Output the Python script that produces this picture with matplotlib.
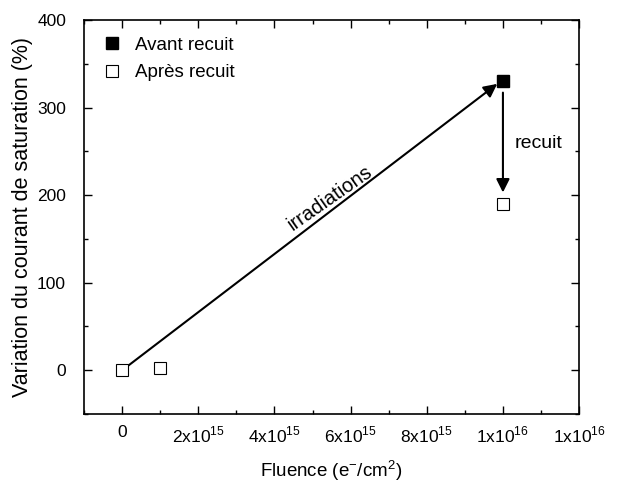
import matplotlib
matplotlib.use('Agg')
import matplotlib.pyplot as plt
from matplotlib.ticker import MultipleLocator

plt.rcParams['font.family'] = ['Liberation Sans', 'DejaVu Sans']
plt.rcParams['mathtext.fontset'] = 'custom'
plt.rcParams['mathtext.rm'] = 'Liberation Sans'

# data
avant_x = [1e16]
avant_y = [330]
apres_x = [0, 1e15, 1e16]
apres_y = [0, 3, 190]
xtick_vals = [0, 2e15, 4e15, 6e15, 8e15, 1e16, 1.2e16]
xtick_labels = ['0', r'2x10$^{15}$', r'4x10$^{15}$', r'6x10$^{15}$',
                r'8x10$^{15}$', r'1x10$^{16}$', r'1x10$^{16}$']
ytick_vals = [0, 100, 200, 300, 400]

fig = plt.figure(figsize=(6.42, 4.86), dpi=100)
ax = fig.add_axes([0.131, 0.148, 0.771, 0.811])

ax.plot(avant_x, avant_y, 's', ms=8.5, color='black', mec='black',
        label='Avant recuit', zorder=4)
ax.plot(apres_x, apres_y, 's', ms=8.5, mfc='white', mec='black', mew=0.8,
        label='Après recuit', zorder=4)

# arrows
ax.annotate('', xy=(0.985e16, 327), xytext=(0, 0),
            arrowprops=dict(arrowstyle='-|>', color='black', lw=1.5,
                            mutation_scale=20, shrinkA=0, shrinkB=0))
ax.annotate('', xy=(1e16, 203), xytext=(1e16, 317),
            arrowprops=dict(arrowstyle='-|>', color='black', lw=1.5,
                            mutation_scale=20, shrinkA=0, shrinkB=0))
ax.text(5.45e15, 197, 'irradiations', rotation=35, ha='center', va='center',
        fontsize=14.5)
ax.text(1.03e16, 259, 'recuit', ha='left', va='center', fontsize=14)

ax.set_xlim(-1e15, 1.2e16)
ax.set_ylim(-50, 400)
ax.set_xticks(xtick_vals)
ax.set_xticklabels(xtick_labels)
ax.set_yticks(ytick_vals)
ax.xaxis.set_minor_locator(MultipleLocator(1e15))
ax.yaxis.set_minor_locator(MultipleLocator(50))
ax.tick_params(which='both', direction='in', top=True, right=True,
               labelsize=12.5, width=1)
ax.tick_params(axis='x', which='major', length=6, pad=8)
ax.tick_params(axis='y', which='major', length=6, pad=13)
ax.tick_params(which='minor', length=3)
for s in ax.spines.values():
    s.set_linewidth(1.2)

ax.set_xlabel(r'Fluence (e$^{-}$/cm$^{2}$)', fontsize=13.5, labelpad=9)
ax.set_ylabel('Variation du courant de saturation (%)', fontsize=15.5, labelpad=3)

ax.legend(loc='upper left', frameon=False, fontsize=13.5, handletextpad=0.6,
          borderaxespad=0, borderpad=0.4, labelspacing=0.55, handlelength=1.2,
          bbox_to_anchor=(0.019, 0.976))

fig.savefig('out.png', dpi=100)
